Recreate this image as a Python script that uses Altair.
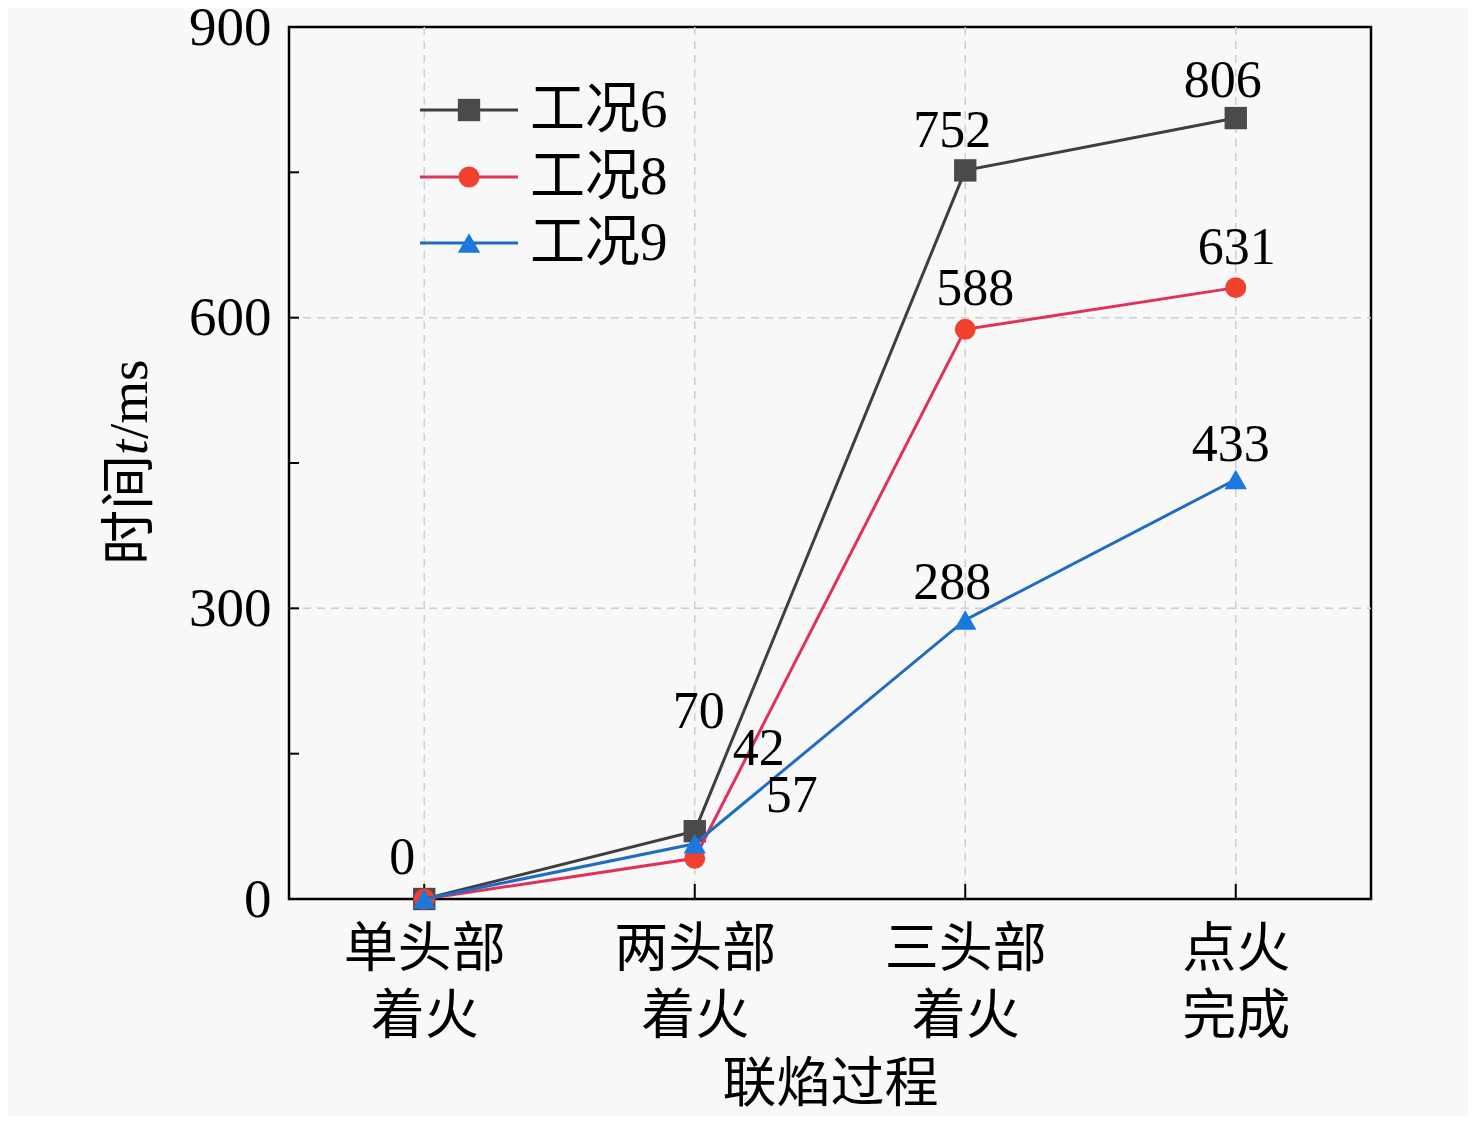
import altair as alt
import pandas as pd

# ---- data ----
stages = ["单头部着火", "两头部着火", "三头部着火", "点火完成"]
series_names = ["工况6", "工况8", "工况9"]
vals_6 = [0, 70, 752, 806]
vals_8 = [0, 42, 588, 631]
vals_9 = [0, 57, 288, 433]
y_ticks = [0, 150, 300, 450, 600, 750, 900]
y_grid = [300, 600]
y_title_parts = ["时间", "t", "/ms"]

all_vals = [vals_6, vals_8, vals_9]
line_colors = ["#3f3f3f", "#e0315a", "#1f6cc4"]
marker_colors = ["#4a4a4a", "#f0402e", "#1a78de"]
shapes = ["square", "circle", "triangle-up"]
marker_sizes = [500, 440, 500]

# label offsets (dx, dy) per series per point; None = not drawn
label_offsets = [
    [(-22, -41), (4, -119), (-13, -39), (-13, -37)],
    [None, (64, -109), (10, -40), (1, -40)],
    [None, (97, -48), (-13, -37), (-5, -34)],
]

FONT = "Liberation Serif, Noto Sans CJK SC"
W, H = 1082, 872

rows = []
for name, vals in zip(series_names, all_vals):
    for s, v in zip(stages, vals):
        rows.append({"series": name, "stage": s, "value": v})
df = pd.DataFrame(rows)

xenc = alt.X("stage:N", sort=stages,
             scale=alt.Scale(type="point", padding=0.5),
             axis=alt.Axis(title="联焰过程", labelAngle=0, labelAlign="center",
                           labelExpr="[substring(datum.label,0,length(datum.label)-2), substring(datum.label,length(datum.label)-2)]",
                           labelFont=FONT, labelFontSize=54, labelLineHeight=67,
                           labelColor="black", labelPadding=24, labelBaseline="top",
                           titleFont=FONT, titleFontSize=54, titleFontWeight="normal",
                           titleColor="black", titlePadding=14,
                           ticks=False, domain=False, grid=False))
yenc = alt.Y("value:Q", scale=alt.Scale(domain=[0, 900], nice=False, zero=False),
             axis=alt.Axis(title=None, values=y_ticks,
                           labelExpr="datum.value % 300 == 0 ? datum.label : ''",
                           labelFont=FONT, labelFontSize=55, labelColor="black",
                           labelPadding=18, labelBaseline="middle",
                           ticks=False, domain=False, grid=False))

layers = []

# grid lines
grid_x = alt.Chart(pd.DataFrame({"stage": stages})).mark_rule(
    color="#cfcfcf", strokeDash=[8, 6], strokeWidth=1.5
).encode(x=alt.X("stage:N", sort=stages), y=alt.value(0), y2=alt.value(H))
grid_y = alt.Chart(pd.DataFrame({"value": y_grid})).mark_rule(
    color="#cfcfcf", strokeDash=[8, 6], strokeWidth=1.5
).encode(y="value:Q", x=alt.value(0), x2=alt.value(W))
layers += [grid_x, grid_y]

# inward ticks
tick_y = alt.Chart(pd.DataFrame({"value": y_ticks})).mark_rule(
    color="black", strokeWidth=2
).encode(y="value:Q", x=alt.value(0), x2=alt.value(10))
tick_x = alt.Chart(pd.DataFrame({"stage": stages})).mark_rule(
    color="black", strokeWidth=2
).encode(x=alt.X("stage:N", sort=stages), y=alt.value(H - 15), y2=alt.value(H))
layers += [tick_y, tick_x]

for i, name in enumerate(series_names):
    sub = df[df.series == name]
    base = alt.Chart(sub)
    layers.append(base.mark_line(color=line_colors[i], strokeWidth=3).encode(x=xenc, y=yenc))
    layers.append(base.mark_point(shape=shapes[i], filled=True, opacity=1,
                                  color=marker_colors[i], size=marker_sizes[i]).encode(x=xenc, y=yenc))

for i, name in enumerate(series_names):
    for j, s in enumerate(stages):
        off = label_offsets[i][j]
        if off is None:
            continue
        sub = df[(df.series == name) & (df.stage == s)]
        layers.append(alt.Chart(sub).mark_text(
            font=FONT, fontSize=52, color="black", dx=off[0], dy=off[1],
            baseline="middle", align="center"
        ).encode(x=xenc, y=yenc, text="value:Q"))

# y-axis title in three pieces (italic t)
title_y = [538, 428, 412]
title_style = ["normal", "italic", "normal"]
for part, ty, st in zip(y_title_parts, title_y, title_style):
    layers.append(alt.Chart(pd.DataFrame({"t": [part]})).mark_text(
        font=FONT, fontSize=55, fontStyle=st, color="black", angle=270,
        align="left", baseline="middle"
    ).encode(x=alt.value(-159), y=alt.value(ty), text="t:N"))

# legend
leg_y = [83, 150, 216]
for i, name in enumerate(series_names):
    leg = alt.Chart(pd.DataFrame({"series": [name]}))
    layers.append(leg.mark_rule(color=line_colors[i], strokeWidth=3).encode(
        x=alt.value(131), x2=alt.value(229), y=alt.value(leg_y[i])))
    layers.append(leg.mark_point(shape=shapes[i], filled=True, opacity=1,
                                 color=marker_colors[i], size=marker_sizes[i]).encode(
        x=alt.value(180), y=alt.value(leg_y[i])))
    layers.append(leg.mark_text(font=FONT, fontSize=55, color="black", align="left",
                                baseline="middle").encode(
        x=alt.value(241), y=alt.value(leg_y[i]), text="series:N"))

chart = alt.layer(*layers).properties(
    width=W, height=H,
    autosize=alt.AutoSizeParams(type="none"),
    padding={"left": 281, "top": 19, "right": 97, "bottom": 217},
    background="#f8f8f8",
).configure_view(stroke="black", strokeWidth=2.5)

chart.save("out.html", embed_options={"renderer": "svg", "actions": False})
